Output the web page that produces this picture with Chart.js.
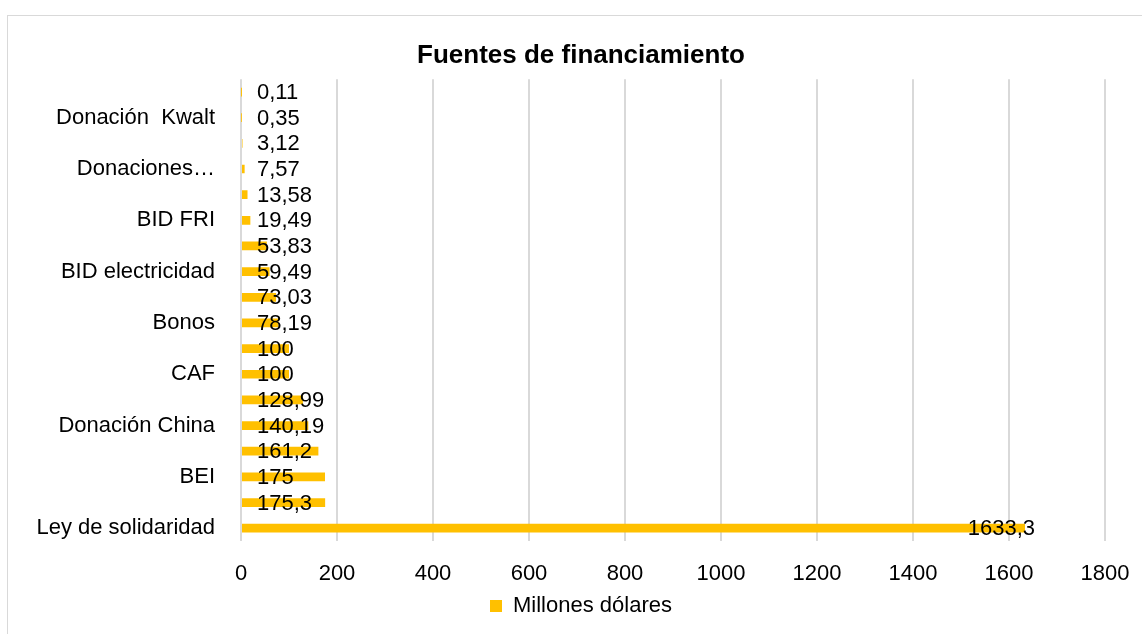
<!DOCTYPE html>
<html>
<head>
<meta charset="utf-8">
<script src="https://cdn.jsdelivr.net/npm/chart.js@4.4.1/dist/chart.umd.min.js"></script>
<style>
  html, body { margin: 0; padding: 0; background: #fff; }
  #wrap { width: 1142px; height: 634px; }
</style>
</head>
<body>
<div id="wrap"><canvas id="myChart" width="1142" height="634"></canvas></div>
<script>
// categories top to bottom (Excel only prints every other one)
const categories = [
  '', 'Donación  Kwalt', '', 'Donaciones…', '', 'BID FRI', '', 'BID electricidad',
  '', 'Bonos', '', 'CAF', '', 'Donación China', '', 'BEI', '', 'Ley de solidaridad'
];
const valueLabels = [
  '0,11', '0,35', '3,12', '7,57', '13,58', '19,49', '53,83', '59,49',
  '73,03', '78,19', '100', '100', '128,99', '140,19', '161,2', '175', '175,3', '1633,3'
];
const millones = [
  0.11, 0.35, 3.12, 7.57, 13.58, 19.49, 53.83, 59.49,
  73.03, 78.19, 100, 100, 128.99, 140.19, 161.2, 175, 175.3, 1633.3
];
const xTicks = [0, 200, 400, 600, 800, 1000, 1200, 1400, 1600, 1800];

const FONT = "'Liberation Sans', Arial, sans-serif";

const framePlugin = {
  id: 'frame',
  beforeDraw(chart) {
    const ctx = chart.ctx;
    ctx.save();
    ctx.fillStyle = '#fff';
    ctx.fillRect(0, 0, chart.width, chart.height);
    ctx.strokeStyle = '#d9d9d9';
    ctx.lineWidth = 1;
    ctx.strokeRect(7.5, 15.5, 1200, 700);
    ctx.restore();
  }
};

const valueLabelPlugin = {
  id: 'valueLabels',
  afterDatasetsDraw(chart) {
    const ctx = chart.ctx;
    const meta = chart.getDatasetMeta(0);
    const x0 = chart.scales.x.getPixelForValue(0);
    ctx.save();
    ctx.font = '22px ' + FONT;
    ctx.fillStyle = '#000';
    ctx.textBaseline = 'middle';
    meta.data.forEach((bar, i) => {
      const txt = valueLabels[i];
      if (bar.x - x0 > 400) {
        ctx.textAlign = 'right';
        ctx.fillText(txt, bar.x + 10, bar.y + 1);
      } else {
        ctx.textAlign = 'left';
        ctx.fillText(txt, x0 + 16, bar.y + 1);
      }
    });
    ctx.restore();
  }
};

new Chart(document.getElementById('myChart'), {
  type: 'bar',
  data: {
    labels: categories,
    datasets: [{
      label: 'Millones dólares',
      data: millones,
      backgroundColor: '#FFC000',
      borderWidth: 0,
      categoryPercentage: 0.34,
      barPercentage: 1
    }]
  },
  options: {
    indexAxis: 'y',
    responsive: false,
    animation: false,
    layout: { padding: { top: 40, right: 0, left: 20, bottom: 7 } },
    scales: {
      x: {
        min: 0,
        max: 1800,
        afterBuildTicks: (scale) => { scale.ticks = xTicks.map(v => ({ value: v })); },
        afterFit: (scale) => { scale.height = 54; scale.paddingRight = 37; },
        grid: { color: '#d9d9d9', lineWidth: 2, drawTicks: true, tickLength: 20, tickColor: 'rgba(0,0,0,0)' },
        border: { display: false },
        ticks: {
          color: '#000',
          font: { family: FONT, size: 22 },
          padding: 0,
          callback: (v) => String(v)
        }
      },
      y: {
        grid: { display: false },
        border: { display: false },
        afterFit: (scale) => { scale.width = 221; },
        ticks: { color: '#000', autoSkip: false, font: { family: FONT, size: 22 }, padding: 18 }
      }
    },
    plugins: {
      title: {
        display: true,
        text: 'Fuentes de financiamiento',
        color: '#000',
        font: { family: FONT, size: 26, weight: 'bold' },
        padding: { top: 0, bottom: 8 }
      },
      legend: {
        position: 'bottom',
        labels: {
          color: '#000',
          boxWidth: 12,
          boxHeight: 12,
          padding: 0,
          font: { family: FONT, size: 22 }
        }
      },
      tooltip: { enabled: false }
    }
  },
  plugins: [framePlugin, valueLabelPlugin]
});
</script>
</body>
</html>
